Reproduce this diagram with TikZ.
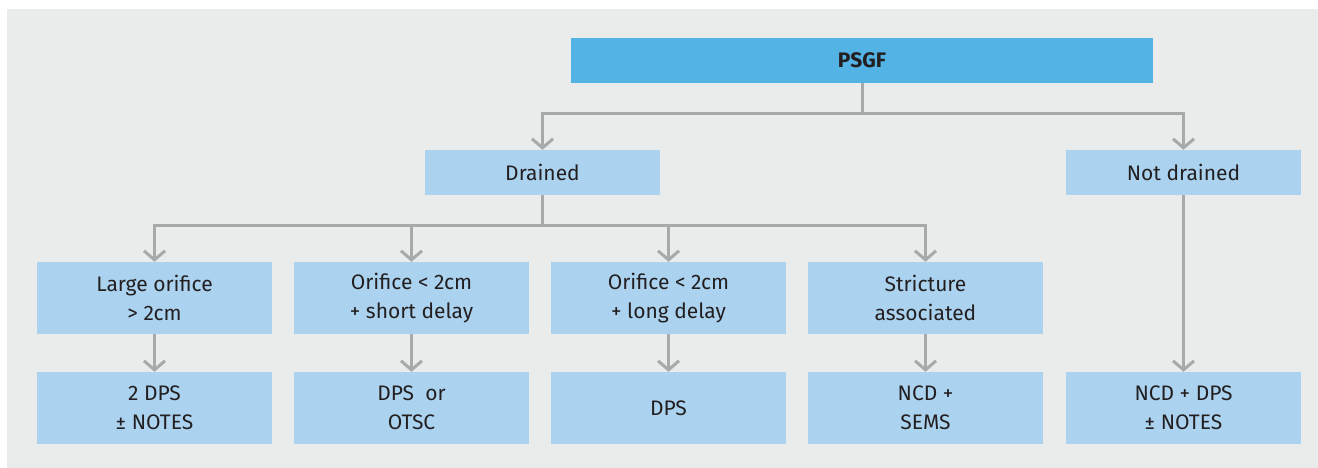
\documentclass[tikz,border=0pt]{standalone}
\usepackage{fontspec}
\setmainfont{Fira Sans}
\usetikzlibrary{arrows.meta}
\definecolor{bgc}{HTML}{EAEBEB}
\definecolor{topc}{HTML}{53B3E5}
\definecolor{boxc}{HTML}{ABD3F0}
\definecolor{linec}{HTML}{A8A9AB}
\definecolor{txtc}{HTML}{231F20}
\tikzset{
  box/.style={fill=boxc, draw=none, minimum width=235pt, align=center, text=txtc,
    font=\fontsize{21}{29}\selectfont, inner sep=0pt},
  onebox/.style={box, minimum height=45pt},
  twobox/.style={box, minimum height=72pt},
  topbox/.style={box, fill=topc, minimum width=582pt, minimum height=45pt,
    font=\fontsize{21}{29}\selectfont\bfseries},
  ln/.style={draw=linec, line width=3pt},
  arr/.style={ln, -{Straight Barb[length=9pt,width=21pt,line width=3pt]}},
}
\begin{document}
\begin{tikzpicture}[x=1pt,y=-1pt]
\useasboundingbox (0,0) rectangle (1318,468);
\fill[bgc] (7,9) rectangle (1318,468);

\node[topbox] (psgf) at (862,60.5) {PSGF};
\node[onebox] (drained) at (542.5,172.5) {Drained};
\node[onebox] (notdrained) at (1183.5,172.5) {Not drained};

\node[twobox] (a1) at (154.5,298) {Large orifice\\> 2cm};
\node[twobox] (a2) at (411.5,298) {Orifice < 2cm\\+ short delay};
\node[twobox] (a3) at (668.5,298) {Orifice < 2cm\\+ long delay};
\node[twobox] (a4) at (925.5,298) {Stricture\\associated};

\node[twobox] (b1) at (154.5,408) {2 DPS\\± NOTES};
\node[twobox] (b2) at (411.5,408) {DPS\ \ or\\OTSC};
\node[twobox] (b3) at (668.5,408) {DPS};
\node[twobox] (b4) at (925.5,408) {NCD +\\SEMS};
\node[twobox] (b5) at (1183.5,408) {NCD + DPS\\± NOTES};

\coordinate (j1) at (862,114);
\coordinate (j2) at (542.5,225);

\draw[ln] (psgf.south) -- (j1);
\draw[arr] (j1) -| (drained.north);
\draw[arr] (j1) -| (notdrained.north);

\draw[ln] (drained.south) -- (j2);
\foreach \n in {a1,a2,a3,a4} {
  \draw[arr] (j2) -| (\n.north);
}
\draw[arr] (a1.south) -- (b1.north);
\draw[arr] (a2.south) -- (b2.north);
\draw[arr] (a3.south) -- (b3.north);
\draw[arr] (a4.south) -- (b4.north);
\draw[arr] (notdrained.south) -- (b5.north);
\end{tikzpicture}
\end{document}
